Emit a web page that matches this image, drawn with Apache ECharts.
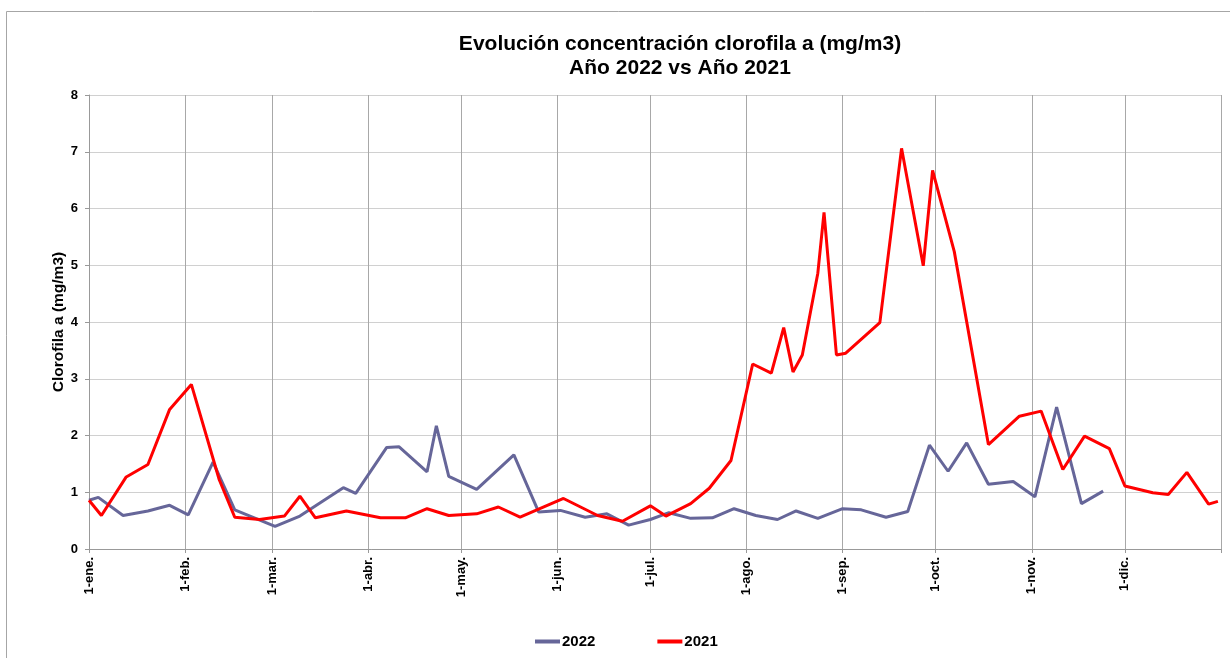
<!DOCTYPE html>
<html>
<head>
<meta charset="utf-8">
<script src="https://cdn.jsdelivr.net/npm/echarts@6/dist/echarts.min.js"></script>
<style>
  html, body { margin: 0; padding: 0; background: #fff; }
  #chart { width: 1230px; height: 658px; }
</style>
</head>
<body>
<div id="chart"></div>
<script>
// datos (fecha mes-día, valor en mg/m3)
const monthLabels = ['1-ene.', '1-feb.', '1-mar.', '1-abr.', '1-may.', '1-jun.', '1-jul.', '1-ago.', '1-sep.', '1-oct.', '1-nov.', '1-dic.'];

const dates2022 = ['01-01', '01-04', '01-12', '01-20', '01-27', '02-02', '02-10', '02-17', '03-02', '03-10',
    '03-24', '03-28', '04-07', '04-11', '04-20', '04-23', '04-27', '05-06', '05-18', '05-26',
    '06-02', '06-10', '06-17', '06-24', '07-01', '07-07', '07-14', '07-21', '07-28', '08-04',
    '08-11', '08-17', '08-24', '09-01', '09-07', '09-15', '09-22', '09-29', '10-05', '10-11',
    '10-18', '10-26', '11-02', '11-09', '11-17', '11-24'];
const values2022 = [0.86, 0.91, 0.59, 0.67, 0.77, 0.60, 1.53, 0.69, 0.40, 0.58,
    1.08, 0.98, 1.79, 1.80, 1.36, 2.17, 1.28, 1.05, 1.66, 0.65,
    0.68, 0.56, 0.62, 0.42, 0.52, 0.64, 0.54, 0.55, 0.71, 0.59,
    0.52, 0.67, 0.54, 0.71, 0.69, 0.56, 0.66, 1.83, 1.37, 1.87,
    1.14, 1.19, 0.92, 2.50, 0.80, 1.02];

const dates2021 = ['01-01', '01-05', '01-13', '01-20', '01-27', '02-03', '02-12', '02-17', '02-25', '03-05',
    '03-10', '03-15', '03-25', '04-05', '04-13', '04-20', '04-27', '05-06', '05-13', '05-20',
    '06-03', '06-14', '06-22', '07-01', '07-06', '07-14', '07-20', '07-27', '08-03', '08-09',
    '08-13', '08-16', '08-19', '08-24', '08-26', '08-30', '09-02', '09-13', '09-20', '09-27',
    '09-30', '10-07', '10-18', '10-28', '11-04', '11-11', '11-18', '11-26', '12-01', '12-10',
    '12-15', '12-21', '12-28', '12-31'];
const values2021 = [0.86, 0.59, 1.27, 1.49, 2.46, 2.90, 1.22, 0.56, 0.52, 0.58,
    0.93, 0.55, 0.67, 0.55, 0.55, 0.71, 0.59, 0.62, 0.74, 0.56,
    0.89, 0.59, 0.49, 0.76, 0.58, 0.80, 1.07, 1.56, 3.26, 3.10,
    3.90, 3.12, 3.42, 4.86, 5.93, 3.42, 3.45, 3.99, 7.06, 4.99,
    6.67, 5.24, 1.84, 2.34, 2.43, 1.40, 1.99, 1.77, 1.11, 0.99,
    0.96, 1.35, 0.79, 0.84];

// ambos años sobre el mismo eje anual: día del año (0 = 1 de enero)
const DAY = 24 * 3600 * 1000;
function dayOfYear(md) {
    const p = md.split('-');
    return (Date.UTC(2022, Number(p[0]) - 1, Number(p[1])) - Date.UTC(2022, 0, 1)) / DAY;
}
function pairs(dates, values) {
    return dates.map(function (d, i) { return [dayOfYear(d), values[i]]; });
}

const monthStarts = monthLabels.map(function (l, i) {
    return (Date.UTC(2022, i, 1) - Date.UTC(2022, 0, 1)) / DAY;
});
const yearEnd = 365;

const chart = echarts.init(document.getElementById('chart'));
const boldFont = { fontFamily: 'Liberation Sans, Arial, sans-serif', fontWeight: 'bold', color: '#000' };

chart.setOption({
    animation: false,
    backgroundColor: '#fff',
    textStyle: { fontFamily: 'Liberation Sans, Arial, sans-serif' },
    title: {
        text: 'Evolución concentración clorofila a (mg/m3)\nAño 2022 vs Año 2021',
        left: 675,
        top: 27,
        textAlign: 'center',
        textStyle: Object.assign({}, boldFont, { fontSize: 21, lineHeight: 24 })
    },
    graphic: [{
        type: 'rect',
        shape: { x: 6.5, y: 11.5, width: 1300, height: 700 },
        style: { fill: 'none', stroke: '#a6a6a6', lineWidth: 1 },
        silent: true
    }],
    legend: {
        top: 629,
        left: 530,
        itemWidth: 25,
        itemHeight: 4,
        itemGap: 62,
        icon: 'rect',
        textStyle: Object.assign({}, boldFont, { fontSize: 15, padding: [0, 0, 0, -3] }),
        data: ['2022', '2021']
    },
    grid: { left: 89, right: 9, top: 95, bottom: 109, containLabel: false },
    xAxis: {
        type: 'value',
        min: 0,
        max: yearEnd,
        axisLine: { lineStyle: { color: '#999' } },
        axisTick: { customValues: monthStarts.concat([yearEnd]), length: 4, lineStyle: { color: '#999' } },
        splitLine: { show: true, lineStyle: { color: '#a8a8a8', width: 1 } },
        axisLabel: {
            customValues: monthStarts,
            rotate: 90,
            margin: 8,
            fontSize: 13,
            fontWeight: 'bold',
            color: '#000',
            formatter: function (v) {
                const i = monthStarts.indexOf(v);
                return i >= 0 ? monthLabels[i] : '';
            }
        }
    },
    yAxis: {
        type: 'value',
        min: 0,
        max: 8,
        interval: 1,
        name: 'Clorofila a (mg/m3)',
        nameLocation: 'middle',
        nameGap: 22,
        nameMoveOverlap: false,
        nameTextStyle: Object.assign({}, boldFont, { fontSize: 15.5 }),
        axisLine: { show: true, lineStyle: { color: '#999' } },
        axisTick: { show: true, length: 4, lineStyle: { color: '#999' } },
        splitLine: { lineStyle: { color: '#d0d0d0', width: 1 } },
        axisLabel: { fontSize: 13, fontWeight: 'bold', color: '#000', margin: 11 }
    },
    series: [
        {
            name: '2022',
            type: 'line',
            symbol: 'none',
            data: pairs(dates2022, values2022),
            itemStyle: { color: '#666699' },
            lineStyle: { color: '#666699', width: 3 },
            z: 2
        },
        {
            name: '2021',
            type: 'line',
            symbol: 'none',
            data: pairs(dates2021, values2021),
            itemStyle: { color: '#ff0000' },
            lineStyle: { color: '#ff0000', width: 3 },
            z: 3
        }
    ]
});
</script>
</body>
</html>
